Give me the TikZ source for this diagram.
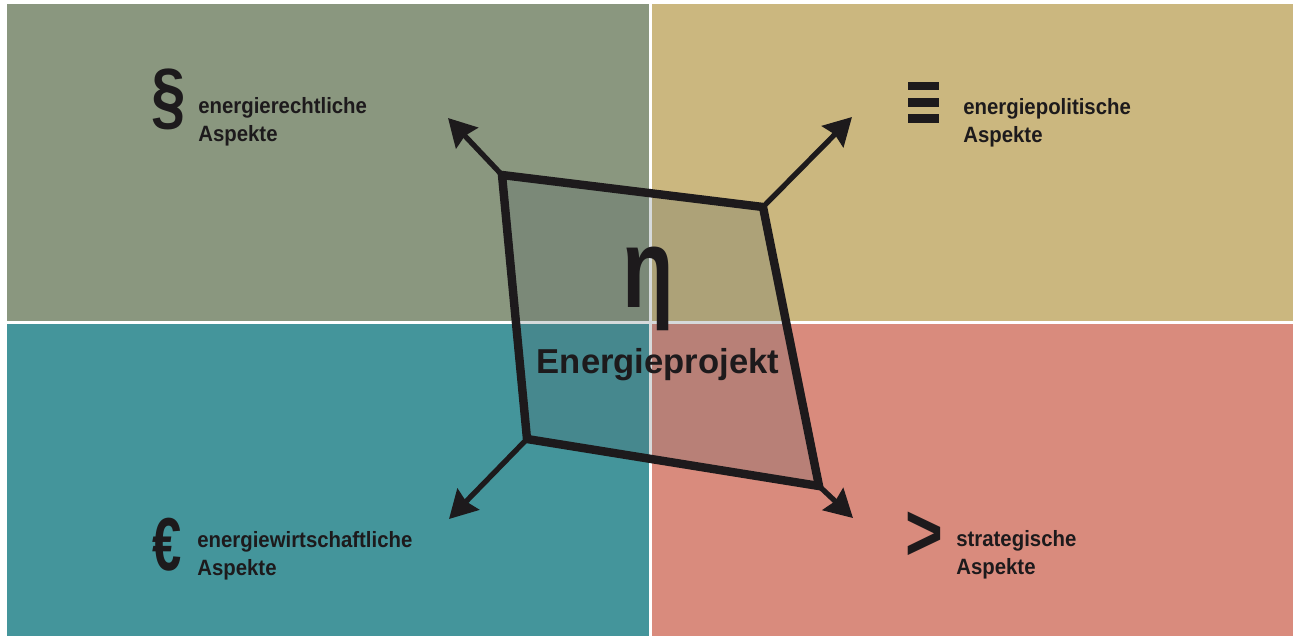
\documentclass[tikz,border=0pt]{standalone}
\usepackage{fontspec}
\setmainfont{Liberation Sans}
\newfontfamily\aspectfont[FakeStretch=0.92]{Liberation Sans}
\usepackage{tikz}
\usetikzlibrary{arrows.meta,positioning}
\definecolor{legal}{HTML}{8A977F}
\definecolor{policy}{HTML}{CBB77F}
\definecolor{economy}{HTML}{44959B}
\definecolor{strategy}{HTML}{D98B7D}
\definecolor{shade}{HTML}{4D5E65}
\definecolor{ink}{HTML}{1D1A1C}
\newcommand{\glyphx}[2]{\scalebox{#1}[1]{#2}}

\begin{document}
\begin{tikzpicture}[
    x=0.02cm, y=-0.02cm,
    aspect/.style={anchor=base west, align=left, inner sep=0pt, text=ink,
                   font=\aspectfont\fontsize{12.6}{15.9}\selectfont\bfseries},
    icon/.style={inner sep=0pt, text=ink},
    project/.style={draw=ink, line width=4.8pt, line join=miter,
                    fill=shade, fill opacity=0.23},
    arrow/.style={-{Stealth[length=0.55cm, width=0.6cm, inset=0.06cm]},
                  line width=3pt, color=ink},
]
    \useasboundingbox (0,0) rectangle (1298,636);

    % four fields
    \fill[legal]    (7,4)     rectangle (649,321);
    \fill[policy]   (652,4)   rectangle (1293,321);
    \fill[economy]  (7,324)   rectangle (649,636);
    \fill[strategy] (652,324) rectangle (1293,636);

    % project frame
    \coordinate (tl) at (502,175);
    \coordinate (tr) at (763,207);
    \coordinate (br) at (819,486);
    \coordinate (bl) at (527,439);
    \draw[project] (tl) -- (tr) -- (br) -- (bl) -- cycle;

    \coordinate (tlTip) at (448,118);
    \coordinate (trTip) at (852,117);
    \coordinate (blTip) at (449,519);
    \coordinate (brTip) at (853,518);

    \draw[arrow] (tl) -- (tlTip);
    \draw[arrow] (tr) -- (trTip);
    \draw[arrow] (bl) -- (blTip);
    \draw[arrow] (br) -- (brTip);

    \node[icon, anchor=base, font=\fontsize{64}{64}\selectfont\bfseries]
        (eta) at (648,307) {\glyphx{0.75}{η}};
    \node[icon, anchor=base, font=\fontsize{19.7}{22}\selectfont\bfseries]
        (proj) at (658,373) {Energieprojekt};

    % symbols
    \node[icon, font=\fontsize{43}{43}\selectfont\bfseries]
        (para) at (169,99) {\glyphx{0.82}{§}};
    \foreach \y in {86,102.5,118.5}
        \fill[ink] (908,\y-4.3) rectangle (939,\y+4.3);
    \node[icon, font=\fontsize{42.7}{43}\selectfont\bfseries]
        (euro) at (167,545) {\glyphx{0.7}{€}};
    \node[icon, font=\fontsize{46}{46}\selectfont\bfseries]
        (chev) at (924,536) {\glyphx{0.8}{>}};

    % aspects
    \node[aspect] (legalTxt)    at (198,141) {energierechtliche\\Aspekte};
    \node[aspect] (policyTxt)   at (963,142) {energiepolitische\\Aspekte};
    \node[aspect] (economyTxt)  at (197,575) {energiewirtschaftliche\\Aspekte};
    \node[aspect] (strategyTxt) at (956,574) {strategische\\Aspekte};
\end{tikzpicture}
\end{document}
